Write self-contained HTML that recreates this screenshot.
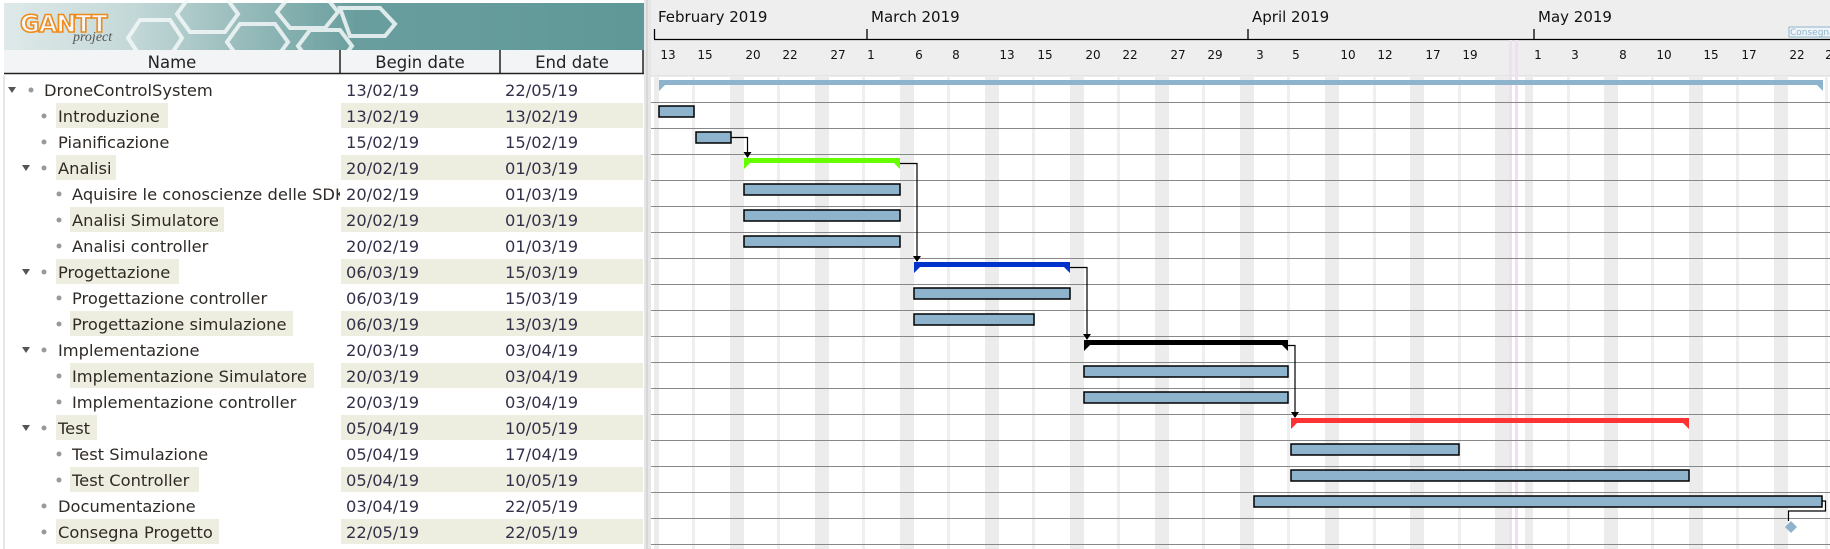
<!DOCTYPE html>
<html><head><meta charset="utf-8"><style>
html,body{margin:0;padding:0;background:#fff;}
svg{display:block;}
text{font-family:"DejaVu Sans","Liberation Sans",sans-serif;}
</style></head><body>
<svg width="1830" height="549" viewBox="0 0 1830 549" xmlns="http://www.w3.org/2000/svg">
<defs>
<linearGradient id="lg" x1="0" x2="1" y1="0" y2="0">
<stop offset="0" stop-color="#dfe9e9"/><stop offset="0.2" stop-color="#c4d8d8"/><stop offset="0.55" stop-color="#6a9e9e"/><stop offset="1" stop-color="#5f9898"/>
</linearGradient>
</defs>
<!-- LEFT PANEL -->
<rect x="0" y="0" width="650" height="549" fill="#fff"/>
<rect x="4" y="3" width="640" height="47" fill="url(#lg)"/>
<g fill="none" stroke="#f4f8f8" stroke-width="4" opacity="0.85">
<polygon points="140,20 170,20 182,38 170,56 140,56 128,38"/>
<polygon points="190,-4 225,-4 238,14 225,32 190,32 177,14"/>
<polygon points="240,24 275,24 288,42 275,60 240,60 227,42"/>
<polygon points="290,-4 325,-4 338,12 325,28 290,28 277,12"/>
<polygon points="310,30 340,30 352,46 340,62 310,62 298,46"/>
<polygon points="340,8 380,8 395,24 385,36 350,36"/>
</g>
<text x="20" y="32" font-size="24" font-weight="bold" fill="#f7f7f7" stroke="#f08a1a" stroke-width="1.6" letter-spacing="-1">GANTT</text>
<text x="73" y="41" font-size="14" font-style="italic" fill="#555" style="font-family:'Liberation Serif',serif">project</text>
<!-- column header -->
<rect x="4" y="50" width="640" height="24" fill="#f3f4f6"/>
<line x1="4" y1="73.5" x2="644" y2="73.5" stroke="#222" stroke-width="1.5"/>
<line x1="340" y1="50" x2="340" y2="74" stroke="#222" stroke-width="1.5"/>
<line x1="500" y1="50" x2="500" y2="74" stroke="#222" stroke-width="1.5"/>
<line x1="643" y1="50" x2="643" y2="74" stroke="#222" stroke-width="1.5"/>
<text x="172" y="68" font-size="16.5" fill="#222" text-anchor="middle">Name</text>
<text x="420" y="68" font-size="16.5" fill="#222" text-anchor="middle">Begin date</text>
<text x="572" y="68" font-size="16.5" fill="#222" text-anchor="middle">End date</text>
<line x1="4" y1="76" x2="4" y2="549" stroke="#ccc"/>
<!-- row highlights -->
<g fill="#eeeee0">
<rect x="56" y="103" width="112" height="25"/><rect x="341" y="103" width="302" height="25"/>
<rect x="56" y="155" width="60" height="25"/><rect x="341" y="155" width="302" height="25"/>
<rect x="70" y="207" width="154" height="25"/><rect x="341" y="207" width="302" height="25"/>
<rect x="56" y="259" width="123" height="25"/><rect x="341" y="259" width="302" height="25"/>
<rect x="70" y="311" width="223" height="25"/><rect x="341" y="311" width="302" height="25"/>
<rect x="70" y="363" width="244" height="25"/><rect x="341" y="363" width="302" height="25"/>
<rect x="56" y="415" width="41" height="25"/><rect x="341" y="415" width="302" height="25"/>
<rect x="70" y="467" width="129" height="25"/><rect x="341" y="467" width="302" height="25"/>
<rect x="56" y="519" width="163" height="25"/><rect x="341" y="519" width="302" height="25"/>
</g>
<!-- triangles -->
<g fill="#555">
<polygon points="8,87 16,87 12,93"/>
<polygon points="22,165 30,165 26,171"/>
<polygon points="22,269 30,269 26,275"/>
<polygon points="22,347 30,347 26,353"/>
<polygon points="22,425 30,425 26,431"/>
</g>
<g fill="#999">
<circle cx="31" cy="90" r="2.5"/>
<circle cx="44" cy="116" r="2.5"/><circle cx="44" cy="142" r="2.5"/><circle cx="44" cy="168" r="2.5"/>
<circle cx="59" cy="194" r="2.5"/><circle cx="59" cy="220" r="2.5"/><circle cx="59" cy="246" r="2.5"/>
<circle cx="44" cy="272" r="2.5"/>
<circle cx="59" cy="298" r="2.5"/><circle cx="59" cy="324" r="2.5"/>
<circle cx="44" cy="350" r="2.5"/>
<circle cx="59" cy="376" r="2.5"/><circle cx="59" cy="402" r="2.5"/>
<circle cx="44" cy="428" r="2.5"/>
<circle cx="59" cy="454" r="2.5"/><circle cx="59" cy="480" r="2.5"/>
<circle cx="44" cy="506" r="2.5"/><circle cx="44" cy="532" r="2.5"/>
</g>
<svg x="0" y="76" width="340" height="473">
<g font-size="16.3" fill="#302a26">
<text x="44" y="20">DroneControlSystem</text>
<text x="58" y="46">Introduzione</text>
<text x="58" y="72">Pianificazione</text>
<text x="58" y="98">Analisi</text>
<text x="72" y="124">Aquisire le conoscienze delle SDK</text>
<text x="72" y="150">Analisi Simulatore</text>
<text x="72" y="176">Analisi controller</text>
<text x="58" y="202">Progettazione</text>
<text x="72" y="228">Progettazione controller</text>
<text x="72" y="254">Progettazione simulazione</text>
<text x="58" y="280">Implementazione</text>
<text x="72" y="306">Implementazione Simulatore</text>
<text x="72" y="332">Implementazione controller</text>
<text x="58" y="358">Test</text>
<text x="72" y="384">Test Simulazione</text>
<text x="72" y="410">Test Controller</text>
<text x="58" y="436">Documentazione</text>
<text x="58" y="462">Consegna Progetto</text>
</g>
</svg>
<g font-size="16.3" fill="#33304a">
<text x="346" y="96">13/02/19</text><text x="505" y="96">22/05/19</text>
<text x="346" y="122">13/02/19</text><text x="505" y="122">13/02/19</text>
<text x="346" y="148">15/02/19</text><text x="505" y="148">15/02/19</text>
<text x="346" y="174">20/02/19</text><text x="505" y="174">01/03/19</text>
<text x="346" y="200">20/02/19</text><text x="505" y="200">01/03/19</text>
<text x="346" y="226">20/02/19</text><text x="505" y="226">01/03/19</text>
<text x="346" y="252">20/02/19</text><text x="505" y="252">01/03/19</text>
<text x="346" y="278">06/03/19</text><text x="505" y="278">15/03/19</text>
<text x="346" y="304">06/03/19</text><text x="505" y="304">15/03/19</text>
<text x="346" y="330">06/03/19</text><text x="505" y="330">13/03/19</text>
<text x="346" y="356">20/03/19</text><text x="505" y="356">03/04/19</text>
<text x="346" y="382">20/03/19</text><text x="505" y="382">03/04/19</text>
<text x="346" y="408">20/03/19</text><text x="505" y="408">03/04/19</text>
<text x="346" y="434">05/04/19</text><text x="505" y="434">10/05/19</text>
<text x="346" y="460">05/04/19</text><text x="505" y="460">17/04/19</text>
<text x="346" y="486">05/04/19</text><text x="505" y="486">10/05/19</text>
<text x="346" y="512">03/04/19</text><text x="505" y="512">22/05/19</text>
<text x="346" y="538">22/05/19</text><text x="505" y="538">22/05/19</text>
</g>
<!-- separator -->
<rect x="644" y="0" width="7" height="549" fill="#e6e6e6"/>
<line x1="647" y1="0" x2="647" y2="549" stroke="#c8c8c8"/>

<!-- CHART -->
<rect x="651" y="0" width="1179" height="76" fill="#eeeeee"/>
<line x1="651" y1="76" x2="1830" y2="76" stroke="#d8d8d8"/>
<line x1="654" y1="39.5" x2="1830" y2="39.5" stroke="#000" stroke-width="1.3"/>
<g stroke="#000" stroke-width="1.3">
<line x1="654.5" y1="29" x2="654.5" y2="39"/><line x1="867" y1="29" x2="867" y2="39"/>
<line x1="1248" y1="29" x2="1248" y2="39"/><line x1="1534" y1="29" x2="1534" y2="39"/>
</g>
<g font-size="15" fill="#111">
<text x="658" y="22">February 2019</text><text x="871" y="22">March 2019</text>
<text x="1252" y="22">April 2019</text><text x="1538" y="22">May 2019</text>
</g>
<rect x="1789" y="27" width="42" height="10" fill="#eef4f8" stroke="#8db4cc" stroke-width="1"/>
<text x="1790" y="35" font-size="9" fill="#8db4cc">Consegna</text>
<g font-size="12" fill="#111" text-anchor="middle">
<text x="668" y="59">13</text><text x="705" y="59">15</text><text x="753" y="59">20</text><text x="790" y="59">22</text>
<text x="838" y="59">27</text><text x="871" y="59">1</text><text x="919" y="59">6</text><text x="956" y="59">8</text>
<text x="1007" y="59">13</text><text x="1045" y="59">15</text><text x="1093" y="59">20</text><text x="1130" y="59">22</text>
<text x="1178" y="59">27</text><text x="1215" y="59">29</text><text x="1260" y="59">3</text><text x="1296" y="59">5</text>
<text x="1348" y="59">10</text><text x="1385" y="59">12</text><text x="1433" y="59">17</text><text x="1470" y="59">19</text>
<text x="1538" y="59">1</text><text x="1575" y="59">3</text><text x="1623" y="59">8</text><text x="1664" y="59">10</text>
<text x="1711" y="59">15</text><text x="1749" y="59">17</text><text x="1797" y="59">22</text><text x="1829" y="59">2</text>
</g>
<!-- bands -->
<g fill="#ececec">
<rect x="654" y="77" width="5" height="472"/>
<rect x="730" y="77" width="14" height="472"/><rect x="815" y="77" width="14" height="472"/>
<rect x="900" y="77" width="14" height="472"/><rect x="985" y="77" width="14" height="472"/>
<rect x="1070" y="77" width="14" height="472"/><rect x="1155" y="77" width="14" height="472"/>
<rect x="1240" y="77" width="14" height="472"/><rect x="1325" y="77" width="14" height="472"/>
<rect x="1410" y="77" width="14" height="472"/><rect x="1495" y="77" width="14" height="472"/>
<rect x="1525" y="77" width="8" height="472"/>
<rect x="1604" y="77" width="14" height="472"/><rect x="1689" y="77" width="14" height="472"/>
<rect x="1774" y="77" width="14" height="472"/>
</g>
<g fill="#efefef">
<rect x="692" y="77" width="3" height="472"/><rect x="777" y="77" width="3" height="472"/>
<rect x="862" y="77" width="3" height="472"/><rect x="947" y="77" width="3" height="472"/>
<rect x="1032" y="77" width="3" height="472"/><rect x="1117" y="77" width="3" height="472"/>
<rect x="1202" y="77" width="3" height="472"/><rect x="1287" y="77" width="3" height="472"/>
<rect x="1373" y="77" width="3" height="472"/><rect x="1458" y="77" width="3" height="472"/>
<rect x="1567" y="77" width="3" height="472"/><rect x="1651" y="77" width="3" height="472"/>
<rect x="1736" y="77" width="3" height="472"/><rect x="1825" y="77" width="3" height="472"/>
</g>
<g fill="#f0dff0">
<rect x="1509" y="40" width="3" height="509"/><rect x="1515" y="40" width="3" height="509"/>
</g>
<!-- row lines -->
<g stroke="#888" stroke-width="1">
<line x1="651" y1="102.5" x2="1830" y2="102.5"/><line x1="651" y1="128.5" x2="1830" y2="128.5"/>
<line x1="651" y1="154.5" x2="1830" y2="154.5"/><line x1="651" y1="180.5" x2="1830" y2="180.5"/>
<line x1="651" y1="206.5" x2="1830" y2="206.5"/><line x1="651" y1="232.5" x2="1830" y2="232.5"/>
<line x1="651" y1="258.5" x2="1830" y2="258.5"/><line x1="651" y1="284.5" x2="1830" y2="284.5"/>
<line x1="651" y1="310.5" x2="1830" y2="310.5"/><line x1="651" y1="336.5" x2="1830" y2="336.5"/>
<line x1="651" y1="362.5" x2="1830" y2="362.5"/><line x1="651" y1="388.5" x2="1830" y2="388.5"/>
<line x1="651" y1="414.5" x2="1830" y2="414.5"/><line x1="651" y1="440.5" x2="1830" y2="440.5"/>
<line x1="651" y1="466.5" x2="1830" y2="466.5"/><line x1="651" y1="492.5" x2="1830" y2="492.5"/>
<line x1="651" y1="518.5" x2="1830" y2="518.5"/><line x1="651" y1="544.5" x2="1830" y2="544.5"/>
</g>
<!-- summary bars -->
<polygon points="659,80 1823,80 1823,91 1817,85 665,85 659,91" fill="#8db4cc"/>
<polygon points="744,158 900,158 900,169 894,163 750,163 744,169" fill="#66ff00"/>
<polygon points="914,262 1070,262 1070,273 1064,267 920,267 914,273" fill="#0033cc"/>
<polygon points="1084,340 1288,340 1288,351 1282,345 1090,345 1084,351" fill="#000"/>
<polygon points="1291,418 1689,418 1689,429 1683,423 1297,423 1291,429" fill="#ff3333"/>
<!-- task bars -->
<g fill="#8db4cc" stroke="#000" stroke-width="1.5">
<rect x="659" y="106" width="35" height="11"/>
<rect x="696" y="132" width="35" height="11"/>
<rect x="744" y="184" width="156" height="11"/>
<rect x="744" y="210" width="156" height="11"/>
<rect x="744" y="236" width="156" height="11"/>
<rect x="914" y="288" width="156" height="11"/>
<rect x="914" y="314" width="120" height="11"/>
<rect x="1084" y="366" width="204" height="11"/>
<rect x="1084" y="392" width="204" height="11"/>
<rect x="1291" y="444" width="168" height="11"/>
<rect x="1291" y="470" width="398" height="11"/>
<rect x="1254" y="496" width="568" height="11"/>
</g>
<!-- connectors -->
<g fill="none" stroke="#000" stroke-width="1.2">
<polyline points="731,137.5 747.5,137.5 747.5,153"/>
<polyline points="900,163.5 917,163.5 917,257"/>
<polyline points="1070,267.5 1087,267.5 1087,335"/>
<polyline points="1288,345.5 1295,345.5 1295,413"/>
<polyline points="1822,501 1825.5,501 1825.5,511 1788.5,511 1788.5,521"/>
</g>
<g fill="#000">
<polygon points="743.5,152 751.5,152 747.5,158"/>
<polygon points="913,256 921,256 917,262"/>
<polygon points="1083,334 1091,334 1087,340"/>
<polygon points="1291,412 1299,412 1295,418"/>
</g>
<polygon points="1791,521 1797,527 1791,533 1785,527" fill="#8db4cc"/>
</svg>
</body></html>
